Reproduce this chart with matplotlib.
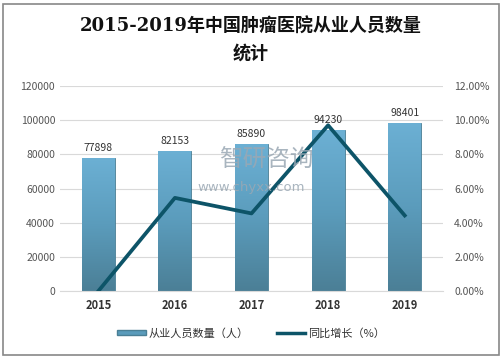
import matplotlib
matplotlib.use('Agg')
import matplotlib.pyplot as plt
import numpy as np
from matplotlib.patches import Rectangle
from matplotlib.lines import Line2D
from matplotlib.ticker import FuncFormatter

plt.rcParams['font.family'] = ['Noto Sans CJK SC', 'DejaVu Sans']

years = ['2015', '2016', '2017', '2018', '2019']
staff = [77898, 82153, 85890, 94230, 98401]
growth = [0.0, 5.46, 4.55, 9.71, 4.43]

fig = plt.figure(figsize=(5.02, 3.59), dpi=100)
ax = fig.add_axes([0.1195, 0.189, 0.763, 0.571])
ax2 = ax.twinx()

x = np.arange(len(years))
bars = ax.bar(x, staff, width=0.43, color='#5a9bbb', edgecolor='#4a7f95', linewidth=0.6, zorder=2)

# vertical gradient on each bar
grad = np.linspace(0, 1, 256).reshape(-1, 1)
cmap = matplotlib.colors.LinearSegmentedColormap.from_list('g', ['#4b7f96', '#5b9cbc', '#6cb0d4'])
for b in bars:
    x0, w, h = b.get_x(), b.get_width(), b.get_height()
    im = ax.imshow(grad, extent=[x0, x0 + w, 0, h], origin='lower', aspect='auto', cmap=cmap, zorder=2)
    im.set_clip_path(b)

for xi, v in zip(x, staff):
    ax.text(xi, v + 3000, str(v), ha='center', va='bottom', fontsize=7.5, color='#333333')

ax.set_xlim(-0.5, 4.5)
ax.set_ylim(0, 120000)
ax.set_yticks(range(0, 120001, 20000))
ax.grid(axis='y', color='#d9d9d9', linewidth=0.8, zorder=0)
ax.set_axisbelow(True)
ax.set_xticks(x)
ax.set_xticklabels(years, fontsize=8, fontweight='bold', color='#333333')
ax.tick_params(axis='y', labelsize=7.5, colors='#555555', length=0)
ax.tick_params(axis='x', length=0, pad=6)
for s in ['top', 'right', 'left']:
    ax.spines[s].set_visible(False)
    ax2.spines[s].set_visible(False)
ax.spines['bottom'].set_color('#d9d9d9')
ax2.spines['bottom'].set_visible(False)

ax2.plot(x, growth, color='#0d5468', linewidth=2.7, zorder=3)
ax2.set_ylim(0, 12)
ax2.set_yticks(range(0, 13, 2))
ax2.yaxis.set_major_formatter(FuncFormatter(lambda v, p: '%.2f%%' % v))
ax2.tick_params(axis='y', labelsize=7.5, colors='#555555', length=0, pad=8)

# watermark
fig.text(0.53, 0.553, '智研咨询', fontsize=17, color='#9aa8b4', alpha=0.85, ha='center', va='center')
fig.text(0.50, 0.478, 'www.chyxx.com', fontsize=9.5, color='#9aa8b4', alpha=0.85, ha='center', va='center',
         family='DejaVu Sans')

fig.text(0.5, 0.925, '2015-2019年中国肿瘤医院从业人员数量', fontsize=13, fontweight='semibold',
         ha='center', va='center', color='#111111', family=['DejaVu Serif', 'Noto Sans CJK SC'])
fig.text(0.5, 0.85, '统计', fontsize=13, fontweight='semibold', ha='center', va='center', color='#111111',
         family=['DejaVu Serif', 'Noto Sans CJK SC'])

# legend
handles = [Rectangle((0, 0), 1, 1, facecolor='#5a9bbb', edgecolor='#4a7f95'),
           Line2D([0], [0], color='#0d5468', linewidth=2.5)]
fig.legend(handles, ['从业人员数量（人）', '同比增长（%）'], loc='center', bbox_to_anchor=(0.5, 0.072),
           ncol=2, frameon=False, fontsize=8, handlelength=2.6, handleheight=0.4, columnspacing=2.5,
           handletextpad=0.2, labelcolor='#333333')

fig.add_artist(Rectangle((0.006, 0.01), 0.988, 0.98, transform=fig.transFigure, fill=False,
                         edgecolor='#888888', linewidth=1.2))

fig.savefig('out.png', dpi=100)
